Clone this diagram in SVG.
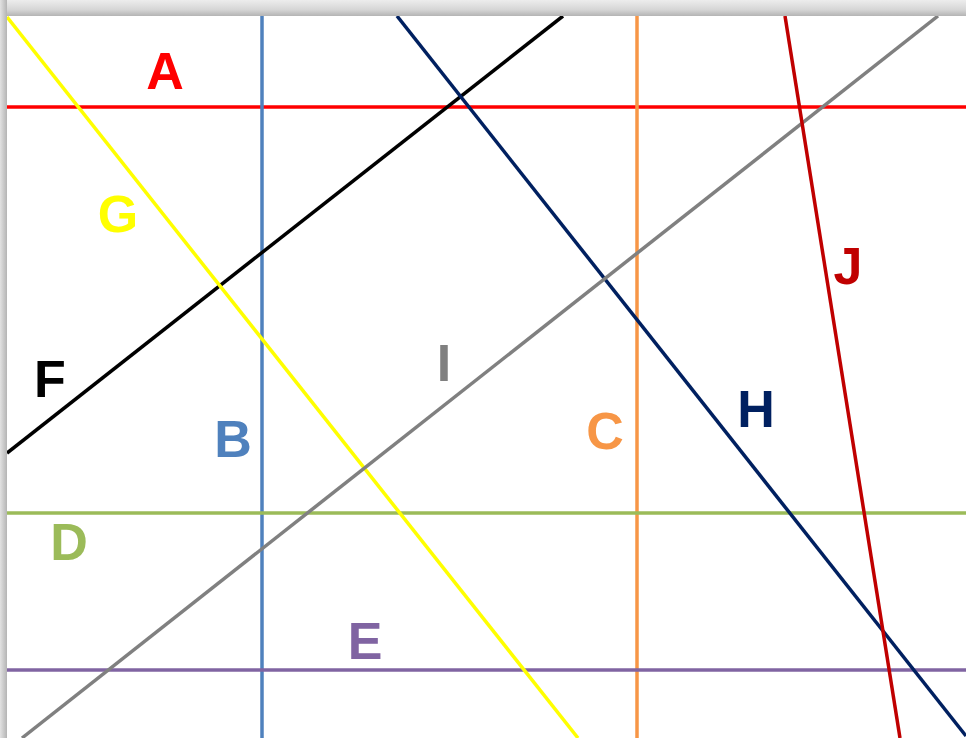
<svg xmlns="http://www.w3.org/2000/svg" width="966" height="738" viewBox="0 0 966 738">
  <defs>
    <linearGradient id="shTop" x1="0" y1="0" x2="0" y2="1">
      <stop offset="0" stop-color="#ededed"/>
      <stop offset="0.6" stop-color="#d6d6d6"/>
      <stop offset="1" stop-color="#b4b4b4"/>
    </linearGradient>
    <linearGradient id="shLeft" x1="0" y1="0" x2="1" y2="0">
      <stop offset="0" stop-color="#e2e2e2"/>
      <stop offset="1" stop-color="#b4b4b4"/>
    </linearGradient>
    <clipPath id="area">
      <rect x="7" y="16" width="959" height="722"/>
    </clipPath>
  </defs>
  <style>
    .ln { stroke-width: 3.5; fill: none; }
    .lb { font-family: "Liberation Sans", Arial, sans-serif; font-weight: bold; font-size: 52px; text-anchor: middle; }
  </style>
  <rect x="0" y="0" width="966" height="738" fill="#ffffff"/>
  <rect x="0" y="0" width="966" height="16" fill="url(#shTop)"/>
  <rect x="0" y="0" width="7" height="738" fill="url(#shLeft)"/>
  <rect x="7" y="16" width="959" height="722" fill="#ffffff"/>
  <g id="connectors" clip-path="url(#area)">
    <g id="line-A"><line class="ln" x1="7" y1="107" x2="966" y2="107" stroke="#ff0000"/></g>
    <g id="line-B"><line class="ln" x1="262" y1="16" x2="262" y2="738" stroke="#4f81bd"/></g>
    <g id="line-C"><line class="ln" x1="637" y1="16" x2="637" y2="738" stroke="#f79646"/></g>
    <g id="line-D"><line class="ln" x1="7" y1="513" x2="966" y2="513" stroke="#9bbb59"/></g>
    <g id="line-E"><line class="ln" x1="7" y1="670" x2="966" y2="670" stroke="#8064a2"/></g>
    <g id="line-F"><line class="ln" x1="7" y1="453" x2="563" y2="16" stroke="#000000"/></g>
    <g id="line-G"><line class="ln" x1="7" y1="17" x2="578" y2="738" stroke="#ffff00"/></g>
    <g id="line-H"><line class="ln" x1="397" y1="16" x2="966" y2="736" stroke="#002060"/></g>
    <g id="line-I"><line class="ln" x1="938" y1="16" x2="22" y2="738" stroke="#808080"/></g>
    <g id="line-J"><line class="ln" x1="785" y1="16" x2="900" y2="738" stroke="#c00000"/></g>
  </g>
  <g id="label-A"><text class="lb" x="165" y="89" fill="#ff0000">A</text></g>
  <g id="label-G"><text class="lb" x="118" y="232" fill="#ffff00">G</text></g>
  <g id="label-F"><text class="lb" x="50" y="397" fill="#000000">F</text></g>
  <g id="label-B"><text class="lb" x="233" y="457" fill="#4f81bd">B</text></g>
  <g id="label-I"><text class="lb" x="444" y="381" fill="#808080">I</text></g>
  <g id="label-C"><text class="lb" x="605" y="449" fill="#f79646">C</text></g>
  <g id="label-H"><text class="lb" x="756" y="427" fill="#002060">H</text></g>
  <g id="label-J"><text class="lb" x="848" y="284" fill="#c00000">J</text></g>
  <g id="label-D"><text class="lb" x="69" y="560" fill="#9bbb59">D</text></g>
  <g id="label-E"><text class="lb" x="365" y="659" fill="#8064a2">E</text></g>
</svg>
